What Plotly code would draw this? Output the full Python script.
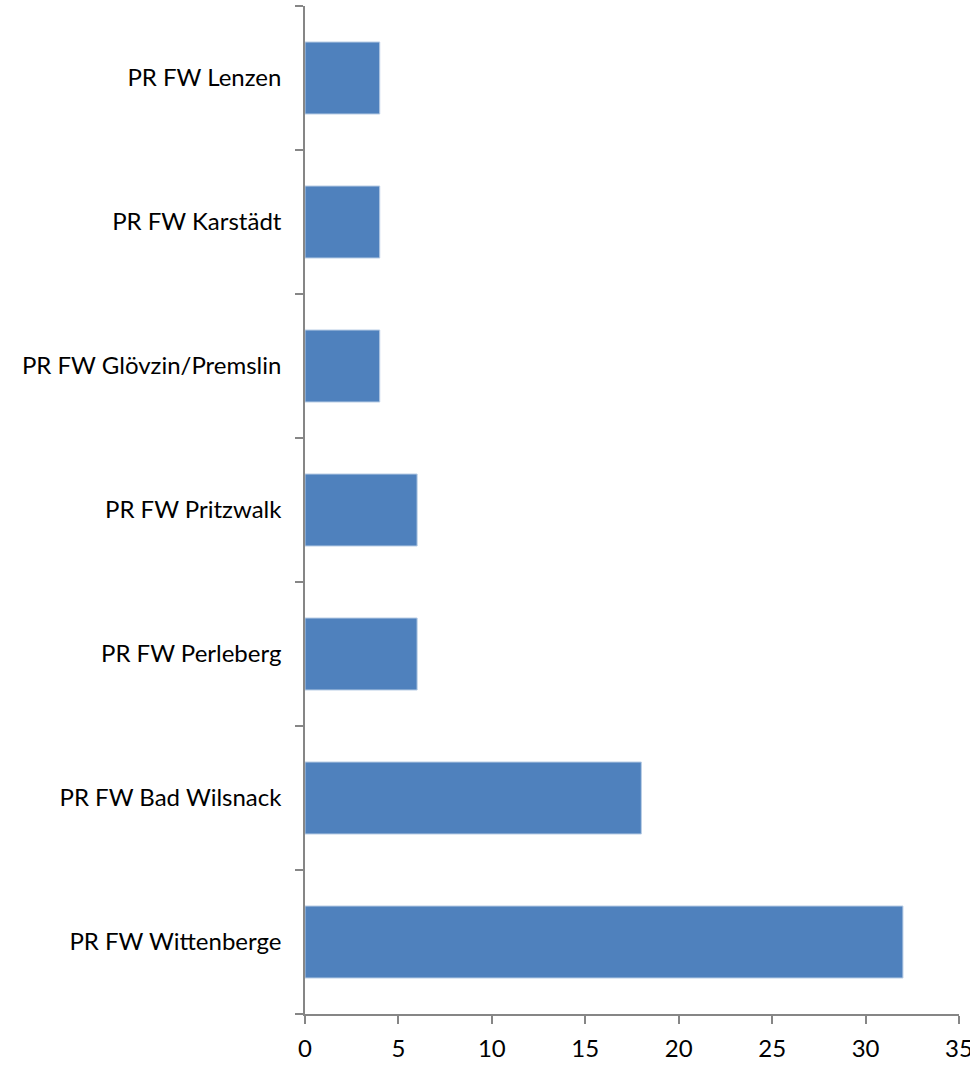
import plotly.graph_objects as go

categories = ["PR FW Wittenberge", "PR FW Bad Wilsnack", "PR FW Perleberg",
              "PR FW Pritzwalk", "PR FW Glövzin/Premslin", "PR FW Karstädt", "PR FW Lenzen"]
values = [32, 18, 6, 6, 4, 4, 4]
x_ticks = [0, 5, 10, 15, 20, 25, 30, 35]

fig = go.Figure(go.Bar(
    y=categories, x=values, orientation="h",
    marker=dict(color="#4F81BD", line=dict(color="#B9CDE5", width=1)),
    width=0.5,
))

axis_color = "#868686"
fig.update_layout(
    width=970, height=1066,
    margin=dict(l=305, r=11, t=6, b=52),
    plot_bgcolor="white", paper_bgcolor="white",
    font=dict(family="Lato, Open Sans, sans-serif", size=24, color="black"),
    showlegend=False,
    xaxis=dict(range=[0, 35], tickvals=x_ticks, showgrid=False, zeroline=False,
               showline=True, linecolor=axis_color, linewidth=1.5,
               ticks="outside", ticklen=8, tickcolor=axis_color, tickwidth=1.5,
               ticklabelstandoff=4, automargin=False, ticklabeloverflow="allow"),
    yaxis=dict(categoryorder="array", categoryarray=categories, showgrid=False,
               showline=True, linecolor=axis_color, linewidth=1.5,
               ticks="outside", tickson="boundaries", ticklen=8,
               tickcolor=axis_color, tickwidth=1.5, ticklabelstandoff=17,
               automargin=False),
)

fig.write_html("out.html", config={"displayModeBar": False},
               post_script="document.body.style.margin='0';document.body.style.overflow='hidden';")
